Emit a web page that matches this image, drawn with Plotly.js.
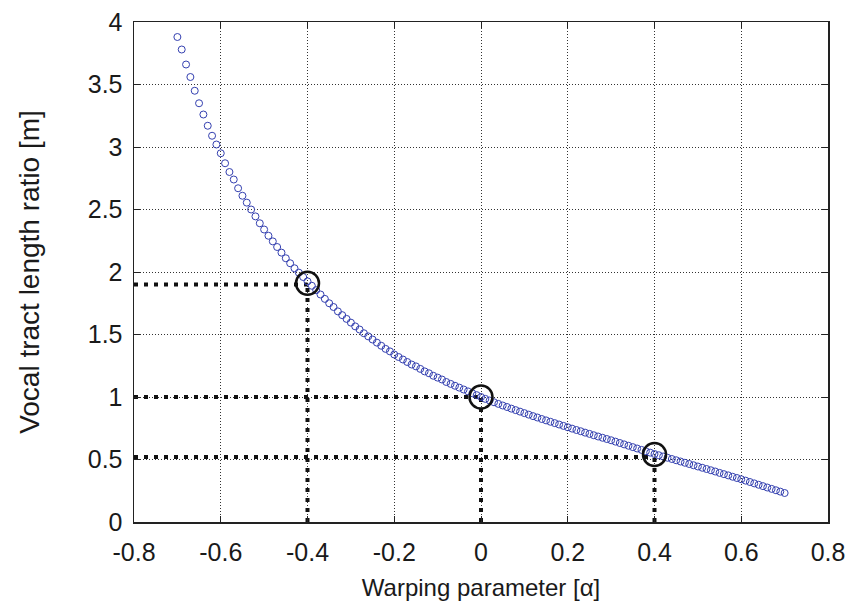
<!DOCTYPE html>
<html>
<head>
<meta charset="utf-8">
<script src="https://cdn.plot.ly/plotly-3.0.1.min.js"></script>
<style>html,body{margin:0;padding:0;background:#fff;}#chart{width:854px;height:603px;}</style>
</head>
<body>
<div id="chart"></div>
<script>
// Warping parameter alpha (x) and vocal tract length ratio m (y)
const alpha = [
 -0.70,-0.69,-0.68,-0.67,-0.66,-0.65,-0.64,-0.63,-0.62,-0.61,
 -0.60,-0.59,-0.58,-0.57,-0.56,-0.55,-0.54,-0.53,-0.52,-0.51,
 -0.50,-0.49,-0.48,-0.47,-0.46,-0.45,-0.44,-0.43,-0.42,-0.41,
 -0.40,-0.39,-0.38,-0.37,-0.36,-0.35,-0.34,-0.33,-0.32,-0.31,
 -0.30,-0.29,-0.28,-0.27,-0.26,-0.25,-0.24,-0.23,-0.22,-0.21,
 -0.20,-0.19,-0.18,-0.17,-0.16,-0.15,-0.14,-0.13,-0.12,-0.11,
 -0.10,-0.09,-0.08,-0.07,-0.06,-0.05,-0.04,-0.03,-0.02,-0.01,
  0.00, 0.01, 0.02, 0.03, 0.04, 0.05, 0.06, 0.07, 0.08, 0.09,
  0.10, 0.11, 0.12, 0.13, 0.14, 0.15, 0.16, 0.17, 0.18, 0.19,
  0.20, 0.21, 0.22, 0.23, 0.24, 0.25, 0.26, 0.27, 0.28, 0.29,
  0.30, 0.31, 0.32, 0.33, 0.34, 0.35, 0.36, 0.37, 0.38, 0.39,
  0.40, 0.41, 0.42, 0.43, 0.44, 0.45, 0.46, 0.47, 0.48, 0.49,
  0.50, 0.51, 0.52, 0.53, 0.54, 0.55, 0.56, 0.57, 0.58, 0.59,
  0.60, 0.61, 0.62, 0.63, 0.64, 0.65, 0.66, 0.67, 0.68, 0.69,
  0.70
];
const ratio = [
 3.88,3.78,3.66,3.56,3.45,3.35,3.26,3.17,3.09,3.02,
 2.95,2.87,2.80,2.74,2.67,2.61,2.555,2.50,2.445,2.39,
 2.34,2.29,2.245,2.20,2.155,2.11,2.07,2.03,1.995,1.96,
 1.925,1.89,1.855,1.82,1.785,1.75,1.72,1.685,1.655,1.625,
 1.595,1.565,1.54,1.51,1.485,1.46,1.435,1.41,1.385,1.365,
 1.34,1.32,1.30,1.28,1.26,1.245,1.225,1.205,1.19,1.17,
 1.155,1.14,1.12,1.105,1.09,1.075,1.06,1.045,1.03,1.015,
 1.00,0.985,0.972,0.958,0.945,0.932,0.92,0.907,0.895,0.883,
 0.871,0.859,0.847,0.836,0.824,0.813,0.802,0.791,0.78,0.769,
 0.758,0.747,0.736,0.726,0.715,0.705,0.694,0.684,0.674,0.664,
 0.654,0.643,0.632,0.621,0.61,0.599,0.588,0.577,0.566,0.555,
 0.544,0.534,0.524,0.514,0.504,0.494,0.484,0.474,0.464,0.454,
 0.444,0.434,0.424,0.414,0.404,0.393,0.383,0.373,0.362,0.352,
 0.342,0.331,0.32,0.309,0.298,0.287,0.276,0.265,0.254,0.243,
 0.232
];
// Highlighted points (big black circles)
const markAlpha = [-0.4, 0.0, 0.4];
const markRatio = [1.91, 1.0, 0.54];
// Dotted guide levels
const guideAlpha = [-0.4, 0.0, 0.4];
const guideRatio = [1.9, 1.0, 0.52];
// Axis ticks
const xTickVals = [-0.8,-0.6,-0.4,-0.2,0,0.2,0.4,0.6,0.8];
const xTickText = ["-0.8","-0.6","-0.4","-0.2","0","0.2","0.4","0.6","0.8"];
const yTickVals = [0,0.5,1,1.5,2,2.5,3,3.5,4];
const yTickText = ["0","0.5","1","1.5","2","2.5","3","3.5","4"];

const traces = [];
const guideLine = {color:'#111', width:4, dash:'4px,6px'};
for (let i = 0; i < guideAlpha.length; i++) {
  traces.push({x:[-0.8, guideAlpha[i]], y:[guideRatio[i], guideRatio[i]], mode:'lines',
    line:guideLine, hoverinfo:'skip', showlegend:false});
  traces.push({x:[guideAlpha[i], guideAlpha[i]], y:[0, guideRatio[i]], mode:'lines',
    line:guideLine, hoverinfo:'skip', showlegend:false});
}
traces.push({x:alpha, y:ratio, mode:'markers', showlegend:false,
  marker:{symbol:'circle-open', size:7, color:'#3440b0', line:{width:1, color:'#3440b0'}}});
traces.push({x:markAlpha, y:markRatio, mode:'markers', showlegend:false,
  marker:{symbol:'circle-open', size:23, color:'#111', line:{width:2.5, color:'#111'}}});

const fam = '"Liberation Sans", Arial, sans-serif';
const tickFont = {family:fam, size:25, color:'#1a1a1a'};
const xTitleFont = {family:fam, size:24, color:'#1a1a1a'};
const yTitleFont = {family:fam, size:28, color:'#1a1a1a'};
const layout = {
  width:854, height:603,
  margin:{l:134, r:26, t:22, b:81},
  paper_bgcolor:'#fff', plot_bgcolor:'#fff',
  font:tickFont,
  xaxis:{range:[-0.8,0.8], tickvals:xTickVals, ticktext:xTickText,
    showgrid:true, gridcolor:'#333', griddash:'1px,2px', gridwidth:1,
    zeroline:false, showline:true, linecolor:'#222', linewidth:1.5, mirror:'ticks',
    ticks:'inside', ticklen:6, tickcolor:'#222', ticklabelstandoff:7,
    tickfont:tickFont, automargin:false,
    title:{text:'Warping parameter [α]', font:xTitleFont, standoff:14}},
  yaxis:{range:[0,4], tickvals:yTickVals, ticktext:yTickText,
    showgrid:true, gridcolor:'#333', griddash:'1px,2px', gridwidth:1,
    zeroline:false, showline:true, linecolor:'#222', linewidth:1.5, mirror:'ticks',
    ticks:'inside', ticklen:6, tickcolor:'#222', ticklabelstandoff:5,
    tickfont:tickFont, automargin:false,
    title:{text:'Vocal tract length ratio [m]', font:yTitleFont, standoff:40}}
};
Plotly.newPlot('chart', traces, layout, {staticPlot:true, displayModeBar:false});
</script>
</body>
</html>
